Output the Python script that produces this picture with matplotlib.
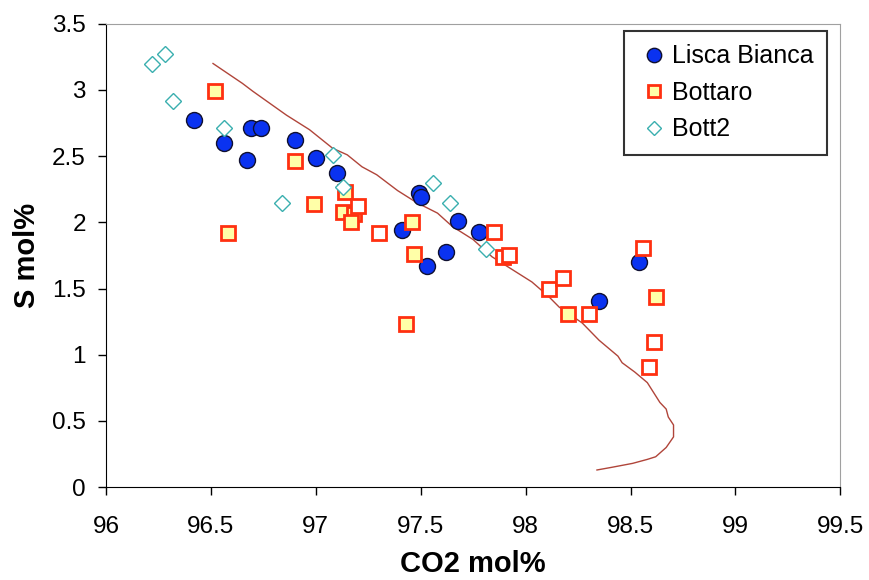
import numpy as np
import matplotlib
matplotlib.use("Agg")
import matplotlib.pyplot as plt

plt.rcParams['font.family'] = ['Liberation Sans', 'DejaVu Sans']

# Lisca Bianca (blue circles)
lb_co2 = [96.42, 96.56, 96.67, 96.69, 96.74, 96.90, 97.00, 97.10, 97.49, 97.50,
          97.41, 97.68, 97.78, 97.62, 97.53, 98.35, 98.54]
lb_s = [2.77, 2.60, 2.47, 2.71, 2.71, 2.62, 2.49, 2.37, 2.22, 2.19,
        1.94, 2.01, 1.93, 1.78, 1.67, 1.41, 1.70]

# Bottaro (yellow filled squares)
bo_co2 = [96.52, 96.90, 96.99, 96.58, 97.14, 97.13, 97.18, 97.17, 97.46, 97.47,
          97.43, 98.20, 98.62]
bo_s = [2.99, 2.46, 2.14, 1.92, 2.23, 2.08, 2.06, 2.00, 2.00, 1.76,
        1.23, 1.31, 1.44]

# Bottaro, open squares
bo_open_co2 = [97.20, 97.30, 97.85, 97.89, 97.92, 98.11, 98.18, 98.30, 98.56, 98.61, 98.59]
bo_open_s = [2.12, 1.92, 1.93, 1.74, 1.75, 1.50, 1.58, 1.31, 1.81, 1.10, 0.91]

# Bott2 (cyan diamonds)
b2_co2 = [96.22, 96.28, 96.32, 96.56, 97.08, 96.84, 97.13, 97.56, 97.64, 97.81]
b2_s = [3.20, 3.27, 2.92, 2.71, 2.51, 2.15, 2.27, 2.30, 2.15, 1.80]

# model curve
curve_co2 = [96.51, 96.65, 96.70, 96.86, 96.97, 97.08, 97.15, 97.22, 97.29, 97.39,
             97.48, 97.58, 97.65, 97.75, 97.84, 97.94, 98.03, 98.11, 98.16, 98.27,
             98.35, 98.44, 98.46, 98.52, 98.58, 98.64, 98.67, 98.68, 98.705, 98.705,
             98.67, 98.62, 98.58, 98.51, 98.41, 98.34]
curve_s = [3.20, 3.05, 2.99, 2.81, 2.70, 2.56, 2.51, 2.42, 2.36, 2.24,
           2.15, 2.07, 1.97, 1.87, 1.74, 1.64, 1.55, 1.44, 1.36, 1.24,
           1.11, 0.99, 0.94, 0.87, 0.79, 0.64, 0.59, 0.53, 0.47, 0.38,
           0.30, 0.23, 0.21, 0.18, 0.15, 0.13]

fig = plt.figure(figsize=(8.69, 5.80), dpi=100)
ax = fig.add_axes([0.122, 0.160, 0.845, 0.799])

ax.plot(curve_co2, curve_s, color='#B0453A', lw=1.0, zorder=2)
ax.plot(lb_co2, lb_s, 'o', ms=11.5, mfc='#0A32F0', mec='#101030', mew=1.0,
        label='Lisca Bianca', zorder=3)
ax.plot(bo_co2, bo_s, 's', ms=10, mfc='#FFFFA8', mec='#FF3010', mew=2.0,
        label='Bottaro', zorder=3)
ax.plot(bo_open_co2, bo_open_s, 's', ms=10, mfc='white', mec='#FF3010', mew=2.0,
        zorder=3)
ax.plot(b2_co2, b2_s, 'D', ms=8, mfc='white', mec='#3AAFAF', mew=1.0,
        label='Bott2', zorder=3)

ax.set_xlim(96, 99.5)
ax.set_ylim(0, 3.5)
ax.set_xticks(np.arange(96, 99.51, 0.5))
ax.set_yticks(np.arange(0, 3.51, 0.5))
ax.set_xticklabels(['96', '96.5', '97', '97.5', '98', '98.5', '99', '99.5'])
ax.set_yticklabels(['0', '0.5', '1', '1.5', '2', '2.5', '3', '3.5'])
ax.tick_params(direction='out', length=5.5, width=1, labelsize=17.5)
ax.tick_params(axis='x', pad=15)
ax.tick_params(axis='y', pad=9)

for s in ['top', 'right']:
    ax.spines[s].set_color('#A0A0A0')
for s in ['left', 'bottom']:
    ax.spines[s].set_color('black')

ax.set_xlabel('CO2 mol%', fontsize=21, fontweight='bold', labelpad=9)
ax.set_ylabel('S mol%', fontsize=21, fontweight='bold', labelpad=8)

leg = ax.legend(loc='upper right', bbox_to_anchor=(0.982, 0.985), borderaxespad=0,
                fontsize=18, frameon=True, fancybox=False, edgecolor='black',
                handletextpad=0.05, handlelength=1.3, borderpad=0.55,
                labelspacing=0.5, markerscale=0.9)
leg.get_frame().set_linewidth(1.5)

fig.savefig('out.png', dpi=100)
